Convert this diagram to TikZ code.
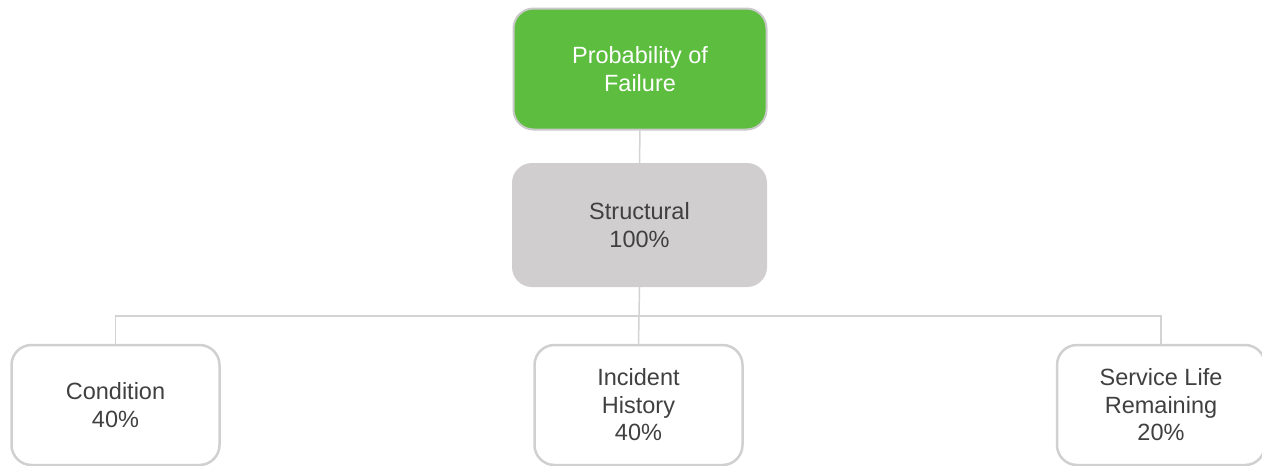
\documentclass[tikz,border=0pt]{standalone}
\usepackage{fontspec}
\setmainfont{Liberation Sans}
\definecolor{topgreen}{HTML}{5DBD3F}
\definecolor{topborder}{HTML}{C9C9C9}
\definecolor{structgray}{HTML}{D0CECF}
\definecolor{linegray}{HTML}{D3D3D3}
\definecolor{boxborder}{HTML}{D0D0D0}
\definecolor{textgray}{HTML}{404040}
\tikzset{
  box/.style={rectangle, rounded corners=20pt, inner sep=0pt, align=center,
    font=\fontsize{23.5}{27.5}\selectfont, text=textgray},
  topbox/.style={box, fill=topgreen, draw=topborder, line width=2pt, text=white,
    minimum width=253pt, minimum height=121pt},
  midbox/.style={box, fill=structgray, minimum width=255pt, minimum height=124pt},
  leafbox/.style={box, fill=white, draw=boxborder, line width=2.5pt,
    minimum width=208pt, minimum height=120pt},
  conn/.style={draw=linegray, line width=1.5pt}
}
\begin{document}
\begin{tikzpicture}[x=1pt,y=-1pt]
\useasboundingbox (0,0) rectangle (1262,466);
\node[topbox] (pof) at (640,69) {Probability of\\Failure};
\node[midbox] (str) at (639.5,225) {Structural\\100\%};
\node[leafbox] (cond) at (115.5,405) {Condition\\40\%};
\node[leafbox] (inc) at (638.5,405) {Incident\\History\\40\%};
\node[leafbox] (svc) at (1161,405) {Service Life\\Remaining\\20\%};
\coordinate (bus) at (639,316);
\draw[conn] (pof.south) -- (str.north);
\draw[conn] (str.south) -- (bus);
\draw[conn] (bus) -| (cond.north);
\draw[conn] (bus) -| (svc.north);
\draw[conn] (bus) -- (inc.north);
\end{tikzpicture}
\end{document}
